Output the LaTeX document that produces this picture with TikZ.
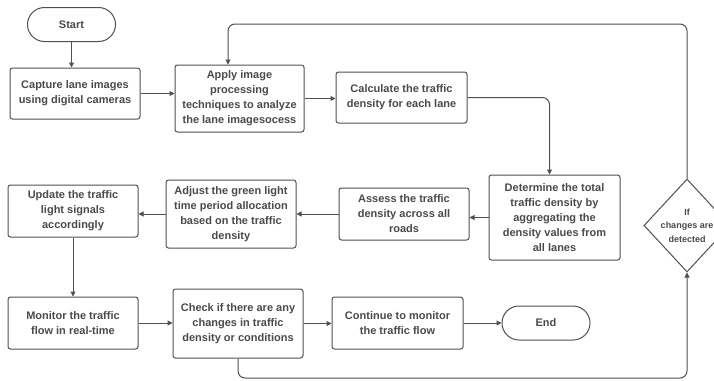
\documentclass[tikz,border=0pt]{standalone}
\usepackage{fontspec}
\setmainfont{Liberation Sans}
\usetikzlibrary{shapes.geometric,shapes.misc,arrows.meta}
\definecolor{linec}{HTML}{505050}
\definecolor{txtc}{HTML}{4A4A4A}
\begin{document}
\begin{tikzpicture}[x=1pt,y=-1pt,
  base/.style={draw=linec, line width=1pt, align=center, text=txtc, inner sep=0pt,
    font=\fontsize{11}{15}\selectfont\bfseries},
  stepbox/.style={base, rounded corners=2.5pt, minimum width=130pt, minimum height=#1},
  term/.style={base, rounded rectangle, minimum width=88pt, minimum height=34pt},
  decis/.style={base, diamond, minimum width=70pt, minimum height=93pt,
    font=\fontsize{9}{13.5}\selectfont\bfseries},
  conn/.style={draw=linec, line width=1pt, -{Triangle[length=5pt,width=5pt]}},
  loopc/.style={conn, rounded corners=7pt}]
\useasboundingbox (0,0) rectangle (714,380);
\fill[white] (0,0) rectangle (714,380);

\node[term] (start) at (71.5,24.5) {Start};
\node[stepbox=51pt] (cap) at (75,93.5) {Capture lane images\\using digital cameras};
\node[stepbox=67pt, minimum width=129pt] (apply) at (239.5,98.5) {Apply image\\processing\\techniques to analyze\\the lane imagesocess};
\node[stepbox=51pt, minimum width=131pt] (calc) at (401.5,97.5) {Calculate the traffic\\density for each lane};
\node[stepbox=85pt, minimum width=131pt] (det) at (554.5,217.5) {Determine the total\\traffic density by\\aggregating the\\density values from\\all lanes};
\node[stepbox=52pt] (assess) at (404,214) {Assess the traffic\\density across all\\roads};
\node[stepbox=68pt] (adjust) at (231,214) {Adjust the green light\\time period allocation\\based on the traffic\\density};
\node[stepbox=52pt] (update) at (73,211) {Update the traffic\\light signals\\accordingly};
\node[stepbox=52pt] (monitor) at (73,323) {Monitor the traffic\\flow in real-time};
\node[stepbox=69pt] (check) at (238,323.5) {Check if there are any\\changes in traffic\\density or conditions};
\node[stepbox=52pt, minimum width=131pt] (cont) at (397.5,323) {Continue to monitor\\the traffic flow};
\node[term] (end) at (546,323) {End};
\node[decis] (dec) at (687,225.5) {If\\changes are\\detected};

\coordinate (bl) at (238,378);
\coordinate (tr) at (687,24);
\coordinate (ain) at (228,24);

\draw[conn] (start.south) -- (start.south |- cap.north);
\draw[conn] (cap.east) -- (cap.east -| apply.west);
\draw[conn] (apply.east) -- (apply.east -| calc.west);
\draw[loopc] (calc.east) -| ([xshift=-5pt]det.north);
\draw[conn] (det.west) -- (det.west -| assess.east);
\draw[conn] (assess.west) -- (assess.west -| adjust.east);
\draw[conn] (adjust.west) -- (adjust.west -| update.east);
\draw[conn] (update.south) -- (update.south |- monitor.north);
\draw[conn] (monitor.east) -- (monitor.east -| check.west);
\draw[conn] (check.east) -- (check.east -| cont.west);
\draw[conn] (cont.east) -- (cont.east -| end.west);
\draw[loopc] (check.south) -- (bl) -- (bl -| dec.south) -- (dec.south);
\draw[loopc] (dec.north) -- (tr) -- (ain) -- (ain |- apply.north);
\end{tikzpicture}
\end{document}
